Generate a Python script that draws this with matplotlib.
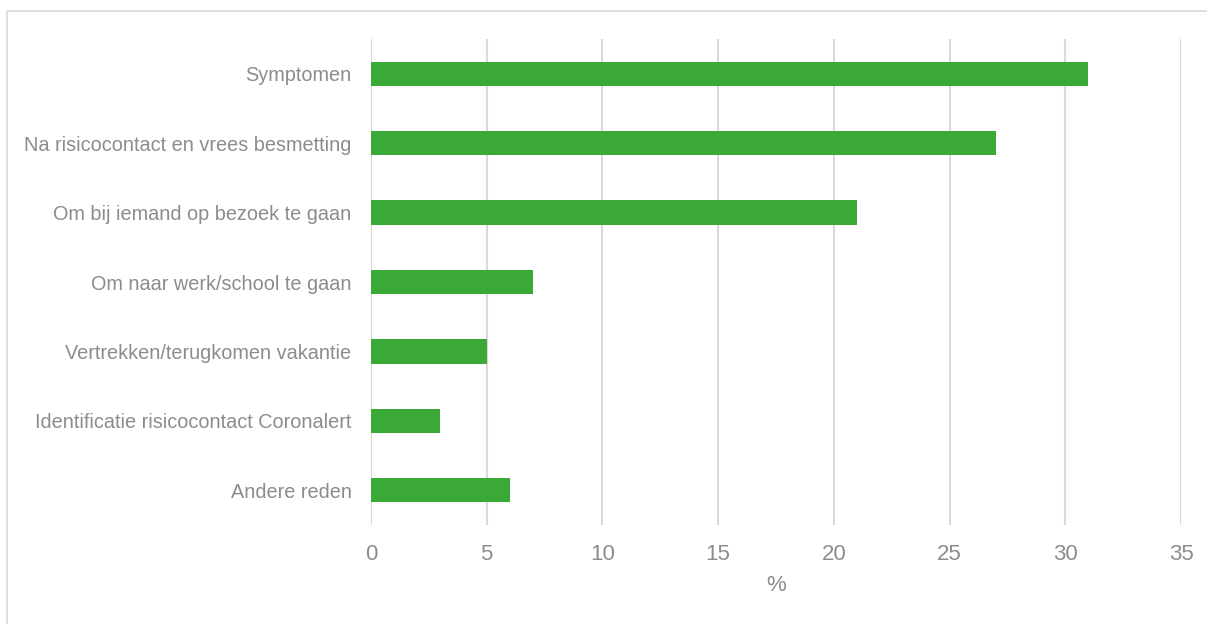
import matplotlib.pyplot as plt
from matplotlib.patches import Rectangle

plt.rcParams['font.family'] = ['Liberation Sans', 'DejaVu Sans']

redenen = ['Symptomen', 'Na risicocontact en vrees besmetting', 'Om bij iemand op bezoek te gaan',
           'Om naar werk/school te gaan', 'Vertrekken/terugkomen vakantie',
           'Identificatie risicocontact Coronalert', 'Andere reden']
percentages = [31, 27, 21, 7, 5, 3, 6]
xticks = [0, 5, 10, 15, 20, 25, 30, 35]

grijs = '#8c8c8c'
groen = '#3aa935'

fig = plt.figure(figsize=(12.07, 6.24), dpi=100)
ax = fig.add_axes([371 / 1207, 1 - 525 / 624, 810 / 1207, 486 / 624])

ax.barh(range(len(redenen)), percentages, height=0.35, color=groen, zorder=3)
ax.set_ylim(len(redenen) - 0.5, -0.5)
ax.set_xlim(0, 35)
ax.set_xticks(xticks)
ax.set_yticks(range(len(redenen)))
ax.set_yticklabels(redenen)

ax.grid(axis='x', color='#d9d9d9', linewidth=1.5, zorder=0)
for s in ax.spines.values():
    s.set_visible(False)
ax.tick_params(axis='y', length=0, pad=14, labelsize=14.3, labelcolor=grijs)
ax.tick_params(axis='x', length=0, pad=14, labelsize=16, labelcolor=grijs)
ax.set_xlabel('%', fontsize=16, color=grijs, labelpad=7)

# kader rond de grafiek
fig.patches.append(Rectangle((7 / 1207, -0.1), 1.1, 1 - 11 / 624 + 0.1, transform=fig.transFigure,
                             fill=False, edgecolor='#d9d9d9', linewidth=1.2))

fig.savefig('out.png', dpi=100)
